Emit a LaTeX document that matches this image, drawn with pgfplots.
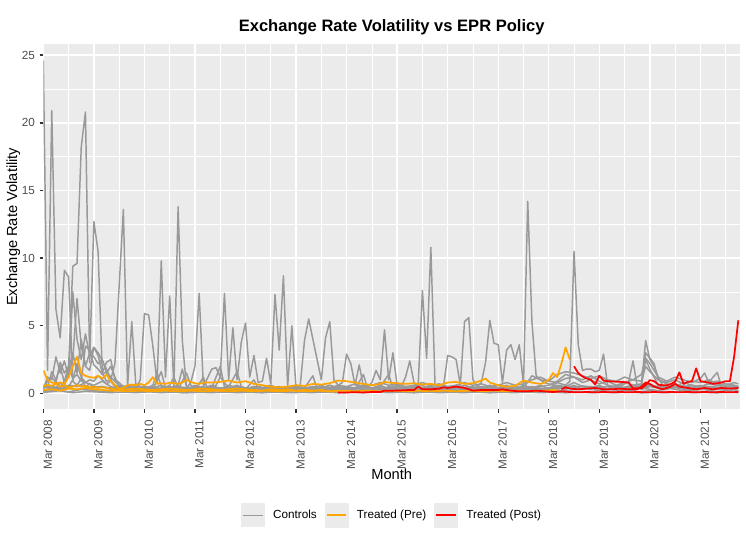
\documentclass[border=0pt]{standalone}
\usepackage{fontspec}
\setmainfont{Liberation Sans}
\usepackage{pgfplots}
\pgfplotsset{compat=1.18}
\definecolor{panelbg}{HTML}{EBEBEB}
\definecolor{ctrl}{HTML}{999999}
\definecolor{pre}{HTML}{FFA500}
\definecolor{post}{HTML}{FF0000}
\definecolor{gtext}{HTML}{4D4D4D}
\definecolor{gtick}{HTML}{333333}
\pgfplotsset{
  cline/.style={ctrl, line width=1.1pt, line join=round},
  oline/.style={pre, line width=1.3pt, line join=round},
  rline/.style={post, line width=1.3pt, line join=round},
}
\begin{document}
\begin{tikzpicture}
\path[use as bounding box] (-32.5pt,-99.5pt) rectangle (527pt,307pt);
\begin{axis}[
  at={(0pt,0pt)}, anchor=south west,
  scale only axis, width=522.5pt, height=273.75pt,
  xmin=0, xmax=165.4, ymin=-1.18, ymax=25.8,
  axis background/.style={fill=panelbg},
  axis line style={draw=none},
  xtick={0,12,...,156},
  xticklabels={Mar 2008,Mar 2009,Mar 2010,Mar 2011,Mar 2012,Mar 2013,Mar 2014,Mar 2015,Mar 2016,Mar 2017,Mar 2018,Mar 2019,Mar 2020,Mar 2021},
  minor xtick={6,18,...,162},
  ytick={0,5,...,25},
  minor ytick={2.5,7.5,...,22.5},
  grid=both,
  major grid style={white, line width=1.07pt},
  minor grid style={white, line width=0.53pt},
  tick align=outside,
  major tick length=2.75pt,
  minor tick length=0pt,
  tick pos=left,
  major tick style={gtick, line width=1.07pt},
  /pgf/number format/assume math mode=true,
  xticklabel style={rotate=90, anchor=north east, inner sep=0pt, font=\fontsize{8.8}{10}\selectfont, text=gtext},
  yticklabel style={anchor=east, inner sep=0pt, font=\fontsize{8.8}{10}\selectfont, text=gtext},
  xticklabel shift=5.0pt,
  yticklabel shift=3.3pt,
  legend columns=3,
  legend style={at={(0.499,-0.2904)}, anchor=center, draw=none, fill=none,
    inner sep=0pt, nodes={inner sep=0pt},
    font=\fontsize{8.8}{10}\selectfont,
    /tikz/every odd column/.append style={column sep=6pt},
    /tikz/every even column/.append style={column sep=5.8pt}},
  legend image code/.code={\fill[panelbg] (0pt,-8.5pt) rectangle (17pt,8.5pt); \draw[#1] (1.2pt,0pt) -- (15.8pt,0pt);},
]
% ---------------- controls ----------------
\addplot[cline, forget plot] coordinates {(0,24.6)(1,1.7)(2,20.9)(3,6.2)(4,4.1)(5,9.1)(6,8.6)(7,0.9)(8,0.6)(9,1.1)(10,0.5)(11,0.7)(12,0.4)(14,0.5)(16,0.3)(18,0.6)(20,0.4)(22,0.3)(24,0.5)(26,0.4)(28,0.6)(30,0.3)(32,0.5)(34,0.3)(36,0.6)(38,0.4)(40,0.5)(42,0.3)(44,0.6)(46,0.4)(48,0.3)(50,0.5)(52,0.4)(54,0.6)(56,0.3)(58,0.4)(60,0.5)(62,0.3)(64,0.4)(66,0.6)(68,0.3)(70,0.5)(72,0.4)(74,0.3)(76,0.5)(78,0.4)(80,0.6)(82,0.3)(84,0.5)(86,0.4)(88,0.5)(89,0.6)(90,7.6)(91,2.6)(92,10.8)(93,0.6)(94,0.4)(96,0.5)(98,0.3)(100,0.6)(102,0.4)(104,0.5)(106,0.3)(108,0.4)(110,0.6)(112,0.3)(114,0.5)(116,0.4)(118,0.6)(120,0.3)(122,0.5)(124,0.4)(126,0.6)(128,0.3)(130,0.5)(132,0.4)(134,0.3)(136,0.5)(138,0.4)(140,0.6)(142,0.3)(144,0.5)(146,0.4)(148,0.3)(150,0.5)(152,0.4)(154,0.6)(156,0.3)(158,0.5)(160,0.4)(162,0.3)(164,0.5)(165,0.4)};
\addplot[cline, forget plot] coordinates {(0,0.5)(1,0.6)(2,0.4)(3,0.8)(4,0.5)(5,0.9)(6,2.0)(7,9.4)(8,9.6)(9,18.2)(10,20.8)(11,2.3)(12,12.7)(13,10.5)(14,1.5)(15,0.9)(16,1.0)(17,2.2)(18,7.9)(19,13.6)(20,0.5)(21,5.3)(22,0.4)(23,1.0)(24,5.9)(25,5.8)(26,3.5)(27,0.8)(28,9.8)(29,1.2)(30,7.2)(31,0.5)(32,13.8)(33,3.9)(34,0.4)(35,0.8)(36,2.0)(37,7.4)(38,0.5)(39,0.3)(40,0.4)(41,0.6)(42,1.2)(43,7.4)(44,1.0)(45,4.85)(46,1.0)(47,3.8)(48,5.2)(49,1.2)(50,2.8)(51,0.8)(52,0.9)(53,2.6)(54,0.7)(55,7.3)(56,3.2)(57,8.7)(58,0.5)(59,5.0)(60,0.4)(61,0.6)(62,3.9)(63,5.5)(64,4.0)(65,2.5)(66,1.0)(67,4.1)(68,5.3)(69,1.0)(70,0.6)(71,0.8)(72,2.9)(73,2.2)(74,0.6)(75,2.1)(76,0.5)(78,0.3)(80,0.4)(82,0.2)(84,0.3)(86,0.4)(88,0.2)(90,0.3)(92,0.4)(94,0.2)(96,0.3)(98,0.4)(100,0.2)(102,0.3)(104,0.4)(106,0.2)(108,0.3)(110,0.4)(112,0.2)(114,0.3)(116,0.4)(118,0.2)(120,0.3)(122,0.4)(124,0.3)(126,0.5)(128,0.3)(130,0.4)(132,0.2)(134,0.3)(136,0.4)(138,0.3)(140,0.2)(142,0.4)(144,0.3)(146,0.2)(148,0.4)(150,0.3)(152,0.2)(154,0.3)(156,0.4)(158,0.2)(160,0.3)(162,0.4)(164,0.3)(165,0.2)};
\addplot[cline, forget plot] coordinates {(0,0.2)(2,0.4)(4,0.3)(6,0.6)(8,0.5)(10,0.8)(12,0.6)(14,0.9)(16,0.5)(18,0.3)(20,0.4)(22,0.2)(24,0.3)(26,0.2)(28,0.4)(30,0.3)(32,0.2)(34,0.4)(36,0.3)(38,0.2)(40,0.3)(42,0.4)(44,0.2)(46,0.3)(48,0.2)(50,0.4)(52,0.3)(54,0.2)(56,0.3)(58,0.4)(60,0.2)(62,0.3)(64,0.2)(66,0.4)(68,0.3)(70,0.2)(72,0.3)(74,0.4)(76,0.3)(77,0.5)(78,0.8)(79,1.7)(80,1.0)(81,4.7)(82,1.0)(83,3.0)(84,0.6)(85,0.5)(86,1.2)(87,2.4)(88,0.8)(89,0.4)(91,0.5)(93,0.4)(95,0.5)(96,2.8)(97,2.7)(98,2.5)(99,0.6)(100,5.3)(101,5.6)(102,1.0)(103,0.5)(104,0.8)(105,2.3)(106,5.4)(107,3.7)(108,3.6)(109,0.8)(110,3.2)(111,3.6)(112,2.5)(113,3.6)(114,0.6)(115,14.2)(116,5.3)(117,1.3)(118,1.0)(119,0.8)(120,0.7)(121,0.6)(122,0.8)(123,0.7)(124,0.6)(125,0.9)(126,10.5)(127,3.6)(128,1.7)(129,1.8)(130,1.8)(131,1.6)(132,1.7)(133,2.9)(134,0.5)(135,0.4)(136,0.6)(137,0.5)(138,0.7)(139,0.9)(140,2.4)(141,0.5)(142,0.6)(143,3.9)(144,2.5)(145,2.0)(146,1.2)(147,0.6)(148,0.5)(150,0.7)(152,0.5)(154,0.6)(156,0.4)(158,0.8)(159,1.2)(160,1.55)(161,0.5)(162,0.4)(164,0.5)(165,0.4)};
\addplot[cline, forget plot] coordinates {(0,0.3)(1,1.2)(2,1.0)(3,2.7)(4,1.5)(5,2.4)(6,1.2)(7,7.5)(8,4.0)(9,2.5)(10,4.4)(11,2.8)(12,3.4)(13,3.0)(14,2.4)(15,1.8)(16,1.0)(17,0.6)(18,0.5)(19,0.4)(20,0.5)(21,0.4)(22,0.6)(23,0.4)(24,0.5)(26,0.3)(28,1.6)(29,0.4)(30,0.3)(32,0.5)(34,0.4)(36,0.2)(38,1.2)(39,0.3)(40,0.4)(42,2.0)(43,0.5)(44,0.3)(46,0.4)(48,0.3)(50,0.5)(52,0.2)(54,0.4)(56,0.3)(58,0.5)(60,0.3)(62,0.4)(64,1.3)(65,0.3)(66,0.4)(68,0.2)(70,0.3)(72,0.4)(74,0.3)(76,1.4)(77,0.3)(78,0.4)(80,0.2)(82,0.5)(84,0.3)(86,0.4)(88,0.2)(90,0.3)(92,0.5)(94,0.3)(96,0.4)(98,0.2)(100,0.3)(102,0.4)(104,0.3)(106,0.5)(108,0.3)(110,0.2)(112,0.4)(114,0.3)(116,0.5)(118,0.3)(120,0.4)(122,0.6)(124,0.5)(126,0.8)(128,0.5)(130,0.4)(132,0.6)(134,0.3)(136,0.5)(138,0.4)(140,0.3)(142,0.6)(143,2.5)(144,1.8)(145,1.2)(146,0.6)(148,0.4)(150,0.5)(152,0.3)(154,0.4)(156,0.6)(158,0.3)(160,0.4)(162,0.3)(164,0.5)(165,0.4)};
\addplot[cline, forget plot] coordinates {(0,0.6)(1,0.5)(2,1.6)(3,1.0)(4,2.0)(5,0.8)(6,1.5)(7,2.5)(8,7.0)(9,3.5)(10,2.0)(11,3.0)(12,2.7)(13,2.2)(14,2.5)(15,1.5)(16,2.0)(17,1.2)(18,0.5)(19,0.3)(20,0.4)(21,0.6)(22,0.3)(23,0.5)(24,0.3)(26,0.6)(27,1.5)(28,0.5)(30,0.4)(32,0.6)(33,1.8)(34,0.5)(36,0.3)(38,0.5)(40,1.8)(41,1.9)(42,1.2)(44,0.4)(46,0.6)(48,0.3)(50,0.5)(52,0.4)(54,0.6)(56,0.3)(58,0.4)(60,0.6)(62,0.3)(64,0.5)(66,0.4)(68,0.6)(70,0.3)(72,0.5)(74,0.4)(76,0.6)(78,0.3)(80,0.5)(82,0.4)(84,0.6)(86,0.3)(88,0.5)(90,0.4)(92,0.6)(94,0.3)(96,0.5)(98,0.4)(100,0.6)(102,0.3)(104,0.5)(106,0.4)(108,0.6)(110,0.3)(112,0.5)(114,0.4)(116,1.3)(118,1.0)(120,0.9)(122,0.8)(124,1.1)(126,1.2)(128,1.0)(130,1.3)(132,0.9)(134,0.6)(136,0.5)(138,0.8)(140,0.6)(142,0.7)(143,3.0)(144,2.6)(145,2.2)(146,1.0)(148,0.7)(150,0.5)(152,0.8)(154,0.6)(156,0.5)(158,0.7)(160,0.6)(162,0.5)(164,0.6)(165,0.5)};
\addplot[cline, forget plot] coordinates {(0,0.2)(1,0.3)(2,0.5)(3,0.4)(4,0.8)(5,0.5)(6,1.8)(7,3.0)(8,1.5)(9,4.0)(10,2.0)(11,1.7)(12,3.4)(13,2.8)(14,1.5)(15,2.3)(16,2.5)(17,1.0)(18,0.8)(19,0.5)(20,0.6)(21,0.4)(22,0.7)(23,0.5)(24,0.4)(26,0.5)(28,0.3)(30,0.6)(31,1.2)(32,0.4)(34,0.3)(36,0.5)(38,0.4)(40,0.6)(42,0.3)(44,0.5)(46,1.6)(47,0.5)(48,0.4)(50,0.3)(52,0.6)(54,0.4)(56,0.5)(58,0.3)(60,0.6)(62,0.4)(64,0.5)(66,0.3)(68,0.6)(70,0.4)(72,0.5)(74,0.3)(76,0.6)(78,0.4)(80,0.5)(82,1.4)(83,0.4)(84,0.3)(86,0.5)(88,0.4)(90,0.6)(92,0.3)(94,0.5)(96,0.4)(98,0.6)(100,0.4)(102,0.5)(104,0.3)(106,0.6)(108,0.4)(110,0.5)(112,0.3)(114,0.6)(116,0.4)(118,0.5)(120,0.6)(122,0.9)(124,1.4)(126,1.2)(128,0.8)(130,1.0)(132,0.7)(134,0.9)(136,0.6)(138,0.8)(140,1.0)(142,0.9)(143,2.0)(144,1.6)(145,1.3)(146,1.0)(148,0.8)(150,1.0)(152,0.7)(154,0.9)(156,0.8)(158,1.0)(160,0.7)(162,0.6)(164,0.8)(165,0.7)};
\addplot[cline, forget plot] coordinates {(0,0.1)(1,0.2)(2,0.3)(3,0.2)(4,0.4)(5,0.3)(6,0.5)(7,1.0)(8,2.2)(9,1.2)(10,0.8)(11,1.0)(12,0.9)(13,1.3)(14,1.0)(15,0.7)(16,0.9)(17,0.5)(18,0.4)(19,0.3)(20,0.3)(22,0.2)(24,0.4)(26,0.2)(28,0.3)(30,0.2)(32,0.3)(34,0.2)(36,0.4)(38,0.2)(40,0.3)(42,0.2)(44,0.3)(46,0.2)(48,0.4)(50,0.2)(52,0.3)(54,0.2)(56,0.3)(58,0.2)(60,0.4)(62,0.2)(64,0.3)(66,0.2)(68,0.3)(70,0.2)(72,0.4)(74,0.2)(76,0.3)(78,0.2)(80,0.3)(82,0.2)(84,0.4)(86,0.2)(88,0.3)(90,0.2)(92,0.3)(94,0.2)(96,0.4)(98,0.2)(100,0.3)(102,0.2)(104,0.3)(106,0.2)(108,0.4)(110,0.2)(112,0.3)(114,0.2)(116,0.3)(118,0.2)(120,0.4)(122,0.3)(124,0.5)(126,0.3)(128,0.4)(130,0.3)(132,0.5)(134,0.3)(136,0.4)(138,0.3)(140,0.5)(142,0.4)(144,0.6)(146,0.4)(148,0.5)(150,0.3)(152,0.4)(154,0.3)(156,0.5)(158,0.4)(160,0.3)(162,0.4)(164,0.3)(165,0.4)};
\addplot[cline, forget plot] coordinates {(0,0.4)(1,0.9)(2,1.2)(3,0.8)(4,2.3)(5,1.5)(6,2.0)(7,1.1)(8,1.4)(9,0.9)(10,3.5)(11,3.2)(12,2.1)(13,1.8)(14,1.4)(15,1.6)(16,1.2)(17,0.9)(18,0.6)(19,0.5)(20,0.4)(22,0.5)(24,0.3)(26,0.4)(28,0.3)(30,0.5)(32,0.3)(34,1.5)(35,0.6)(36,0.4)(38,0.3)(40,0.5)(42,0.4)(44,0.3)(46,0.5)(48,0.3)(50,1.0)(51,0.4)(52,0.3)(54,0.5)(56,0.4)(58,0.3)(60,0.5)(62,0.4)(64,0.3)(66,0.5)(68,0.4)(70,0.6)(72,0.5)(74,0.7)(76,0.5)(78,0.6)(80,0.8)(82,0.6)(84,0.7)(86,0.5)(88,0.6)(90,0.8)(92,0.6)(94,0.7)(96,0.5)(98,0.6)(100,0.8)(102,0.6)(104,0.7)(106,0.5)(108,0.6)(110,0.8)(112,0.6)(114,0.7)(116,1.0)(118,1.2)(120,0.9)(122,1.4)(124,1.6)(126,1.5)(128,1.3)(130,1.1)(132,1.3)(134,1.0)(136,0.9)(138,1.2)(140,1.0)(142,1.4)(143,2.6)(144,2.2)(145,1.7)(146,1.2)(148,0.9)(150,1.2)(152,1.0)(154,0.8)(156,1.1)(157,1.5)(158,0.8)(160,0.9)(162,0.7)(164,0.6)(165,0.5)};
\addplot[cline, forget plot] coordinates {(0,0.15)(3,0.25)(6,0.1)(9,0.3)(12,0.2)(15,0.1)(18,0.25)(21,0.15)(24,0.1)(27,0.2)(30,0.15)(33,0.05)(36,0.2)(39,0.1)(42,0.25)(45,0.15)(48,0.1)(51,0.2)(54,0.1)(57,0.15)(60,0.05)(63,0.2)(66,0.1)(69,0.15)(72,0.25)(75,0.1)(78,0.2)(81,0.15)(84,0.1)(87,0.2)(90,0.15)(93,0.25)(96,0.1)(99,0.2)(102,0.15)(105,0.1)(108,0.2)(111,0.1)(114,0.15)(117,0.25)(120,0.1)(123,0.2)(126,0.15)(129,0.1)(132,0.2)(135,0.15)(138,0.25)(141,0.1)(144,0.2)(147,0.15)(150,0.1)(153,0.2)(156,0.15)(159,0.1)(162,0.2)(165,0.15)};
\addplot[cline, forget plot] coordinates {(0,0.05)(1,0.1)(4,0.2)(7,0.05)(10,0.15)(13,0.1)(16,0.05)(19,0.1)(22,0.05)(25,0.12)(28,0.05)(31,0.1)(34,0.04)(37,0.08)(40,0.05)(43,0.1)(46,0.05)(49,0.08)(52,0.04)(55,0.1)(58,0.05)(61,0.08)(64,0.05)(67,0.1)(70,0.04)(73,0.08)(76,0.05)(79,0.1)(82,0.05)(85,0.08)(88,0.04)(91,0.1)(94,0.05)(97,0.08)(100,0.05)(103,0.1)(106,0.04)(109,0.08)(112,0.05)(115,0.1)(118,0.05)(121,0.08)(124,0.04)(127,0.1)(130,0.05)(133,0.08)(136,0.05)(139,0.1)(142,0.04)(145,0.08)(148,0.05)(151,0.1)(154,0.05)(157,0.08)(160,0.04)(163,0.1)(165,0.05)};
\addplot[cline, forget plot] coordinates {(0,0.4)(2,0.5)(5,0.35)(8,0.6)(11,0.45)(14,0.5)(17,0.35)(20,0.3)(23,0.4)(26,0.3)(29,0.45)(32,0.35)(35,0.3)(38,0.45)(41,0.35)(44,0.4)(47,0.3)(50,0.45)(53,0.35)(56,0.3)(59,0.4)(62,0.35)(65,0.45)(68,0.3)(71,0.4)(74,0.35)(77,0.45)(80,0.3)(83,0.4)(86,0.35)(89,0.3)(92,0.45)(95,0.35)(98,0.4)(101,0.3)(104,0.45)(107,0.35)(110,0.4)(113,0.3)(116,0.45)(119,0.35)(122,0.5)(125,0.4)(128,0.55)(131,0.45)(134,0.5)(137,0.4)(140,0.6)(143,0.7)(146,0.5)(149,0.45)(152,0.55)(155,0.4)(158,0.5)(161,0.45)(164,0.4)(165,0.45)};
% ---------------- treated (pre) ----------------
\addplot[oline, forget plot] coordinates {(0,0.5)(1,0.65)(2,0.55)(3,0.7)(4,0.5)(5,0.6)(6,0.45)(7,0.5)(8,0.6)(9,0.5)(10,0.55)(11,0.45)(12,0.5)(13,0.4)(14,0.45)(15,0.4)(16,0.35)(17,0.3)(18,0.25)(20,0.3)(22,0.35)(24,0.3)(26,0.25)(28,0.3)(30,0.35)(32,0.3)(34,0.25)(36,0.3)(38,0.35)(40,0.3)(42,0.25)(44,0.3)(46,0.35)(48,0.3)(50,0.25)(52,0.2)(54,0.3)(56,0.25)(58,0.3)(60,0.2)(62,0.25)(64,0.2)(66,0.25)(68,0.15)(69,0.1)};
\addplot[oline, forget plot] coordinates {(0,0.25)(2,0.3)(4,0.2)(6,0.35)(8,0.3)(10,0.4)(12,0.3)(14,0.25)(16,0.2)(18,0.2)(20,0.15)(23,0.2)(26,0.15)(29,0.2)(32,0.15)(35,0.2)(38,0.15)(41,0.2)(44,0.15)(47,0.2)(50,0.15)(53,0.2)(56,0.15)(59,0.2)(62,0.15)(65,0.2)(68,0.15)(71,0.2)(74,0.15)(77,0.2)(80,0.15)(83,0.2)(86,0.15)(89,0.2)(92,0.15)(95,0.2)(98,0.15)(101,0.2)(104,0.15)(107,0.2)(110,0.15)(113,0.2)(116,0.15)(119,0.2)(122,0.25)};
\addplot[oline, forget plot] coordinates {(0,1.7)(1,1.0)(2,0.8)(3,0.75)(4,0.8)(5,0.7)(6,1.2)(7,2.0)(8,2.7)(9,1.5)(10,1.3)(11,1.2)(12,1.15)(13,1.3)(14,1.1)(15,1.4)(16,0.9)(17,0.6)(18,0.35)(19,0.4)(20,0.6)(21,0.65)(22,0.6)(23,0.7)(24,0.6)(25,0.8)(26,1.2)(27,0.7)(28,0.75)(29,0.7)(30,0.8)(31,0.75)(32,0.7)(33,0.8)(34,1.0)(35,0.85)(36,0.75)(37,0.7)(38,0.8)(40,0.8)(42,0.85)(44,0.95)(46,0.8)(48,0.9)(50,0.7)(52,0.6)(54,0.5)(56,0.45)(58,0.5)(60,0.6)(62,0.55)(64,0.7)(66,0.65)(68,0.75)(70,0.95)(72,0.9)(74,0.8)(76,0.7)(78,0.6)(80,0.7)(81,0.85)(82,0.8)(84,0.75)(86,0.7)(88,0.75)(90,0.65)(92,0.7)(94,0.6)(96,0.8)(98,0.85)(100,0.7)(102,0.75)(104,0.95)(105,1.1)(106,0.8)(108,0.6)(110,0.5)(112,0.55)(114,0.95)(116,0.8)(118,0.7)(119,0.8)(120,1.0)(121,1.5)(122,1.2)(123,2.2)(124,3.4)(125,2.5)};
% ---------------- treated (post) ----------------
\addplot[rline, forget plot] coordinates {(70,0.07)(72,0.07)(74,0.08)(76,0.07)(78,0.1)(80,0.1)(81,0.2)(83,0.2)(85,0.22)(87,0.25)(88,0.25)(89,0.5)(90,0.3)(92,0.3)(94,0.35)(95,0.45)(96,0.4)(98,0.5)(99,0.45)(100,0.4)(102,0.2)(104,0.25)(106,0.25)(108,0.25)(109,0.3)(111,0.2)(113,0.15)(115,0.15)(117,0.2)(119,0.15)(121,0.1)(123,0.15)(125,0.1)(127,0.08)(129,0.1)(131,0.08)(133,0.1)(135,0.08)(137,0.1)(139,0.08)(141,0.1)(143,0.08)(145,0.1)(147,0.08)(149,0.1)(151,0.08)(153,0.1)(155,0.08)(157,0.1)(159,0.08)(161,0.1)(163,0.08)(165,0.1)};
\addplot[rline, forget plot] coordinates {(123,0.3)(124,0.45)(125,0.35)(127,0.3)(129,0.35)(131,0.4)(133,0.3)(135,0.3)(137,0.35)(139,0.3)(141,0.3)(142,0.5)(143,0.8)(144,0.7)(145,0.5)(147,0.3)(149,0.5)(150,0.7)(151,0.5)(153,0.4)(155,0.3)(157,0.4)(159,0.3)(161,0.4)(163,0.35)(165,0.4)};
\addplot[rline, forget plot] coordinates {(126,2.0)(127,1.5)(128,1.25)(129,1.1)(130,1.0)(131,0.66)(132,1.3)(133,0.95)(134,0.9)(135,0.88)(136,0.86)(137,0.85)(138,0.83)(139,0.8)(140,0.37)(141,0.37)(142,0.37)(143,0.6)(144,0.98)(145,0.9)(146,0.65)(147,0.6)(148,0.6)(149,0.7)(150,0.86)(151,1.55)(152,0.7)(153,0.85)(154,0.9)(155,1.85)(156,0.9)(157,0.85)(158,0.8)(159,0.7)(160,0.75)(161,0.8)(162,0.9)(163,0.9)(164,2.7)(165,5.4)};
% ---------------- legend ----------------
\addlegendimage{cline}\addlegendentry{Controls}
\addlegendimage{oline}\addlegendentry{Treated (Pre)}
\addlegendimage{rline}\addlegendentry{Treated (Post)}
\end{axis}
\node[anchor=base, font=\bfseries\fontsize{12.4}{14}\selectfont] at (261.25pt,283.2pt) {Exchange Rate Volatility vs EPR Policy};
\node[anchor=base, font=\fontsize{11}{13}\selectfont] at (261.25pt,-52.6pt) {Month};
\node[anchor=base, rotate=90, font=\fontsize{11}{13}\selectfont] at (-19.6pt,136.9pt) {Exchange Rate Volatility};
\end{tikzpicture}
\end{document}
